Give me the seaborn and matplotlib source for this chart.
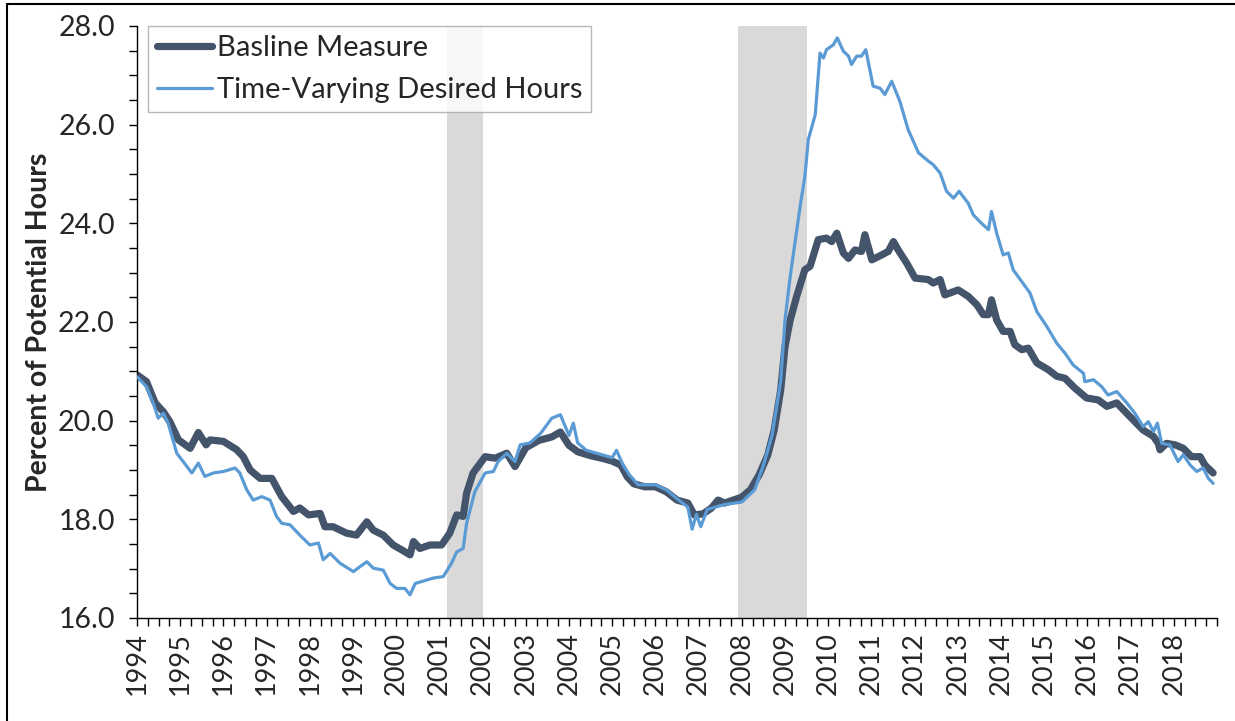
import matplotlib
matplotlib.use("Agg")
import matplotlib.pyplot as plt
from matplotlib.lines import Line2D
from matplotlib.ticker import MultipleLocator
import numpy as np
import pandas as pd
import seaborn as sns

sns.set_style("white")
plt.rcParams["font.family"] = ["Lato", "DejaVu Sans"]

# baseline measure
base_t = [1994.00, 1994.22, 1994.42, 1994.61, 1994.76, 1994.96, 1995.23, 1995.42, 1995.60, 1995.69,
          1996.00, 1996.31, 1996.46, 1996.62, 1996.85, 1997.12, 1997.35, 1997.62, 1997.77, 1997.97,
          1998.24, 1998.35, 1998.54, 1998.85, 1999.08, 1999.32, 1999.47, 1999.70, 1999.93, 2000.13,
          2000.32, 2000.40, 2000.55, 2000.78, 2001.05, 2001.24, 2001.40, 2001.55, 2001.63, 2001.78,
          2002.06, 2002.29, 2002.56, 2002.75, 2003.00, 2003.30, 2003.60, 2003.80, 2004.00, 2004.20,
          2004.50, 2004.80, 2005.00, 2005.20, 2005.35, 2005.50, 2005.75, 2006.00, 2006.25, 2006.50,
          2006.75, 2006.90, 2007.10, 2007.30, 2007.45, 2007.60, 2007.80, 2008.00, 2008.20, 2008.40,
          2008.60, 2008.75, 2008.90, 2009.00, 2009.12, 2009.27, 2009.46, 2009.58, 2009.77, 2009.96,
          2010.08, 2010.20, 2010.35, 2010.47, 2010.62, 2010.77, 2010.85, 2011.01, 2011.24, 2011.39,
          2011.51, 2011.62, 2011.82, 2012.01, 2012.32, 2012.43, 2012.59, 2012.70, 2013.01, 2013.24,
          2013.44, 2013.59, 2013.71, 2013.78, 2013.90, 2014.05, 2014.21, 2014.32, 2014.48, 2014.63,
          2014.83, 2015.10, 2015.29, 2015.48, 2015.71, 2015.98, 2016.25, 2016.45, 2016.68, 2016.91,
          2017.10, 2017.29, 2017.53, 2017.64, 2017.68, 2017.83, 2018.03, 2018.22, 2018.41, 2018.61,
          2018.72, 2018.91]
base_v = [20.93, 20.79, 20.36, 20.18, 19.98, 19.61, 19.44, 19.76, 19.51, 19.61,
          19.58, 19.41, 19.27, 19.00, 18.83, 18.83, 18.46, 18.16, 18.23, 18.09,
          18.12, 17.85, 17.85, 17.72, 17.68, 17.95, 17.78, 17.68, 17.48, 17.38,
          17.28, 17.55, 17.41, 17.48, 17.48, 17.72, 18.09, 18.06, 18.53, 18.94,
          19.27, 19.24, 19.34, 19.07, 19.45, 19.60, 19.67, 19.77, 19.50, 19.37,
          19.29, 19.23, 19.18, 19.10, 18.86, 18.72, 18.66, 18.66, 18.56, 18.39,
          18.33, 18.09, 18.11, 18.23, 18.39, 18.33, 18.39, 18.45, 18.60, 18.90,
          19.30, 19.81, 20.62, 21.50, 22.04, 22.52, 23.06, 23.13, 23.67, 23.70,
          23.63, 23.80, 23.40, 23.29, 23.46, 23.43, 23.77, 23.26, 23.36, 23.43,
          23.63, 23.46, 23.19, 22.89, 22.86, 22.79, 22.86, 22.55, 22.65, 22.52,
          22.35, 22.15, 22.15, 22.45, 22.04, 21.81, 21.81, 21.54, 21.44, 21.47,
          21.17, 21.03, 20.90, 20.86, 20.66, 20.46, 20.42, 20.29, 20.36, 20.15,
          19.98, 19.81, 19.68, 19.54, 19.41, 19.54, 19.51, 19.44, 19.27, 19.27,
          19.10, 18.94]

# time-varying desired hours
tvdh_t = [1994.00, 1994.22, 1994.38, 1994.49, 1994.61, 1994.72, 1994.92, 1995.07, 1995.27, 1995.42,
          1995.57, 1995.77, 1996.00, 1996.27, 1996.38, 1996.54, 1996.69, 1996.89, 1997.08, 1997.23,
          1997.35, 1997.54, 1997.77, 1998.00, 1998.20, 1998.31, 1998.47, 1998.70, 1999.01, 1999.16,
          1999.32, 1999.47, 1999.70, 1999.86, 2000.01, 2000.20, 2000.32, 2000.44, 2000.59, 2000.86,
          2001.09, 2001.28, 2001.40, 2001.55, 2001.63, 2001.82, 2002.06, 2002.25, 2002.36, 2002.56,
          2002.75, 2002.87, 2003.10, 2003.35, 2003.60, 2003.80, 2004.00, 2004.10, 2004.20, 2004.40,
          2004.80, 2005.00, 2005.10, 2005.25, 2005.40, 2005.60, 2006.00, 2006.25, 2006.50, 2006.75,
          2006.85, 2006.95, 2007.05, 2007.20, 2007.40, 2007.60, 2008.00, 2008.30, 2008.50, 2008.70,
          2008.90, 2009.00, 2009.12, 2009.23, 2009.35, 2009.46, 2009.54, 2009.70, 2009.81, 2009.89,
          2009.96, 2010.12, 2010.21, 2010.35, 2010.47, 2010.54, 2010.66, 2010.77, 2010.87, 2011.04,
          2011.20, 2011.31, 2011.47, 2011.66, 2011.85, 2012.09, 2012.32, 2012.43, 2012.59, 2012.74,
          2012.90, 2013.03, 2013.24, 2013.36, 2013.55, 2013.71, 2013.78, 2013.90, 2014.05, 2014.17,
          2014.28, 2014.48, 2014.67, 2014.83, 2015.06, 2015.29, 2015.48, 2015.67, 2015.91, 2015.94,
          2016.14, 2016.33, 2016.48, 2016.68, 2016.91, 2017.10, 2017.29, 2017.41, 2017.53, 2017.62,
          2017.72, 2017.91, 2018.10, 2018.22, 2018.38, 2018.53, 2018.68, 2018.80, 2018.91]
tvdh_v = [20.89, 20.69, 20.35, 20.05, 20.15, 19.95, 19.34, 19.17, 18.94, 19.14,
          18.87, 18.94, 18.97, 19.04, 18.94, 18.60, 18.39, 18.46, 18.39, 18.06,
          17.92, 17.89, 17.68, 17.48, 17.52, 17.18, 17.31, 17.11, 16.94, 17.04,
          17.14, 17.01, 16.97, 16.70, 16.60, 16.60, 16.47, 16.70, 16.74, 16.81,
          16.84, 17.11, 17.34, 17.41, 17.92, 18.56, 18.94, 18.97, 19.17, 19.34,
          19.17, 19.51, 19.55, 19.75, 20.05, 20.12, 19.70, 19.95, 19.55, 19.40,
          19.30, 19.25, 19.40, 19.10, 18.90, 18.70, 18.70, 18.60, 18.42, 18.25,
          17.80, 18.10, 17.85, 18.20, 18.25, 18.30, 18.35, 18.60, 19.10, 19.70,
          20.80, 22.04, 22.92, 23.60, 24.34, 24.95, 25.70, 26.20, 27.45, 27.35,
          27.52, 27.62, 27.76, 27.49, 27.39, 27.22, 27.39, 27.39, 27.52, 26.78,
          26.74, 26.61, 26.88, 26.47, 25.90, 25.43, 25.26, 25.19, 25.02, 24.65,
          24.51, 24.65, 24.41, 24.17, 24.00, 23.87, 24.24, 23.80, 23.36, 23.40,
          23.06, 22.82, 22.59, 22.21, 21.91, 21.57, 21.37, 21.13, 20.96, 20.79,
          20.83, 20.69, 20.52, 20.59, 20.36, 20.15, 19.88, 19.98, 19.78, 19.95,
          19.54, 19.51, 19.17, 19.31, 19.10, 18.97, 19.04, 18.83, 18.73]

rec_start = [2001.17, 2007.92]
rec_end = [2002.0, 2009.5]

year_labels = [str(y) for y in range(1994, 2019)]

base = pd.DataFrame({"t": base_t, "v": base_v})
tvdh = pd.DataFrame({"t": tvdh_t, "v": tvdh_v})

fig = plt.figure(figsize=(12.35, 7.21), dpi=100)
ax = fig.add_axes([137 / 1235, 103 / 721, 1080 / 1235, 592 / 721])

for s, e in zip(rec_start, rec_end):
    ax.axvspan(s, e, color="#D9D9D9", lw=0, zorder=0)

sns.lineplot(data=base, x="t", y="v", color="#44546A", lw=5.2, ax=ax,
             solid_joinstyle="round", solid_capstyle="round", zorder=2)
sns.lineplot(data=tvdh, x="t", y="v", color="#5B9BD5", lw=2.3, ax=ax,
             solid_joinstyle="round", zorder=3)

ax.set_xlim(1994, 2019)
ax.set_ylim(16, 28)
ax.set_xticks(np.arange(1994, 2019))
ax.set_xticklabels(year_labels, rotation=90, fontsize=19.5)
ax.xaxis.set_minor_locator(MultipleLocator(0.25))
ax.yaxis.set_major_locator(MultipleLocator(2))
ax.yaxis.set_minor_locator(MultipleLocator(0.5))
ax.yaxis.set_major_formatter(matplotlib.ticker.FormatStrFormatter("%.1f"))
ax.tick_params(axis="y", labelsize=20.5, pad=10)
ax.tick_params(which="both", direction="out", length=6, width=1, color="black",
               bottom=True, left=True)
ax.tick_params(axis="x", pad=4)
for side in ["top", "right"]:
    ax.spines[side].set_visible(False)
for side in ["left", "bottom"]:
    ax.spines[side].set_color("black")
    ax.spines[side].set_linewidth(1)

ax.set_xlabel("")
ax.set_ylabel("Percent of Potential Hours", fontsize=20.5, fontweight="bold", labelpad=4)

handles = [Line2D([], [], color="#44546A", lw=5.2, solid_capstyle="round"),
           Line2D([], [], color="#5B9BD5", lw=2.3)]
leg = ax.legend(handles, ["Basline Measure", "Time-Varying Desired Hours"],
                loc="upper left", bbox_to_anchor=(0.0102, 1.0), fontsize=21,
                frameon=True, fancybox=False, handlelength=1.9, handletextpad=0.15,
                labelspacing=0.55, borderpad=0.3, borderaxespad=0)
leg.get_frame().set_edgecolor("#A6A6A6")
leg.get_frame().set_linewidth(1)

# frame of the original figure
fig.add_artist(Line2D([7 / 1235, 7 / 1235], [0, 1 - 4 / 721], transform=fig.transFigure,
                      color="black", lw=1.5))
fig.add_artist(Line2D([7 / 1235, 1], [1 - 4 / 721, 1 - 4 / 721], transform=fig.transFigure,
                      color="black", lw=1.5))

fig.savefig("out.png", dpi=100)
